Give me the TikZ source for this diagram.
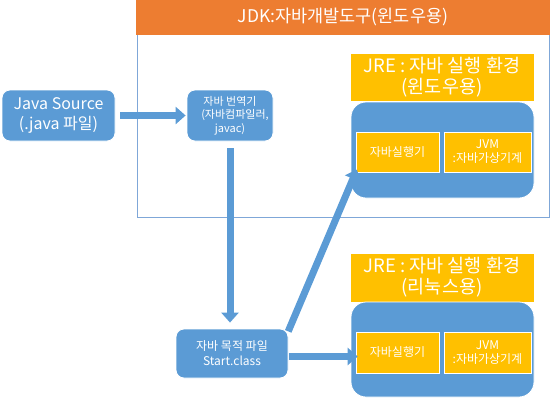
\documentclass[tikz,border=0pt]{standalone}
\usepackage{fontspec}
\setmainfont{Noto Sans CJK KR}
\usetikzlibrary{arrows.meta}
\definecolor{boxblue}{RGB}{91,155,213}
\definecolor{jdkorange}{RGB}{237,125,49}
\definecolor{jreyellow}{RGB}{255,192,0}
\definecolor{frameblue}{RGB}{127,167,216}
\tikzset{
    bluebox/.style={draw=white, line width=0.8pt, fill=boxblue, rounded corners=8pt, text=white, align=center, inner sep=0pt},
    yelbox/.style={draw=white, line width=0.6pt, fill=jreyellow, text=white, align=center, inner sep=0pt},
    bigarrow/.style={boxblue, line width=7pt, -{Triangle[length=10pt,width=17pt]}}
}
\begin{document}
\begin{tikzpicture}[x=1pt, y=-1pt]
    \useasboundingbox (0,0) rectangle (550,400);

    % JDK
    \draw[frameblue, line width=0.8pt] (137,34) rectangle (549,217);
    \node[fill=jdkorange, draw=jdkorange, minimum width=414pt, minimum height=34pt, text=white, font=\fontsize{17.5}{20}\selectfont, inner sep=0pt] (jdk) at (343,17) {JDK:자바개발도구(윈도우용)};

    \node[bluebox, minimum width=113pt, minimum height=51pt, font=\fontsize{16}{20}\selectfont] (src) at (58.5,115.5) {Java Source\\(.java 파일)};
    \node[bluebox, minimum width=86pt, minimum height=51pt, font=\fontsize{11}{13.5}\selectfont] (javac) at (230,115.5) {자바 번역기\\\hspace*{10pt}(자바컴파일러,\\javac)};
    \node[bluebox, minimum width=112pt, minimum height=49pt, font=\fontsize{12}{15}\selectfont] (obj) at (232,353.5) {자바 목적 파일\\Start.class};

    % JRE windows
    \node[yelbox, minimum width=184pt, minimum height=48pt, font=\fontsize{18.5}{21}\selectfont] (jrewin) at (442,77) {JRE : 자바 실행 환경\\(윈도우용)};
    \node[bluebox, rounded corners=15pt, minimum width=183pt, minimum height=96pt] (bodywin) at (442.5,150) {};
    \node[yelbox, minimum width=83pt, minimum height=40pt, font=\fontsize{12}{14}\selectfont] (runwin) at (397.5,152) {자바실행기};
    \node[yelbox, minimum width=87pt, minimum height=40pt, font=\fontsize{12}{14}\selectfont] (jvmwin) at (487.5,152) {JVM\\:자바가상기계};

    % JRE linux
    \node[yelbox, minimum width=184pt, minimum height=49pt, font=\fontsize{18.5}{21}\selectfont] (jrelnx) at (442,277.5) {JRE : 자바 실행 환경\\(리눅스용)};
    \node[bluebox, rounded corners=15pt, minimum width=183pt, minimum height=95pt] (bodylnx) at (442.5,349.5) {};
    \node[yelbox, minimum width=83pt, minimum height=41pt, font=\fontsize{12}{14}\selectfont] (runlnx) at (397.5,352.5) {자바실행기};
    \node[yelbox, minimum width=87pt, minimum height=41pt, font=\fontsize{12}{14}\selectfont] (jvmlnx) at (487.5,352.5) {JVM\\:자바가상기계};

    \draw[bigarrow, shorten <=5pt, shorten >=1pt] (src.east) -- (javac.west);
    \draw[bigarrow, shorten <=7pt, shorten >=6pt] (javac.south) -- (obj.north -| javac.south);
    \draw[bigarrow, shorten <=1pt, shorten >=-2pt] ([yshift=-3pt]obj.east) -- ([yshift=-3pt]obj.east -| runlnx.west);
    \draw[bigarrow, shorten <=-3pt, shorten >=-3pt] ([xshift=1pt]obj.north east) -- (runwin.south west);
\end{tikzpicture}
\end{document}
